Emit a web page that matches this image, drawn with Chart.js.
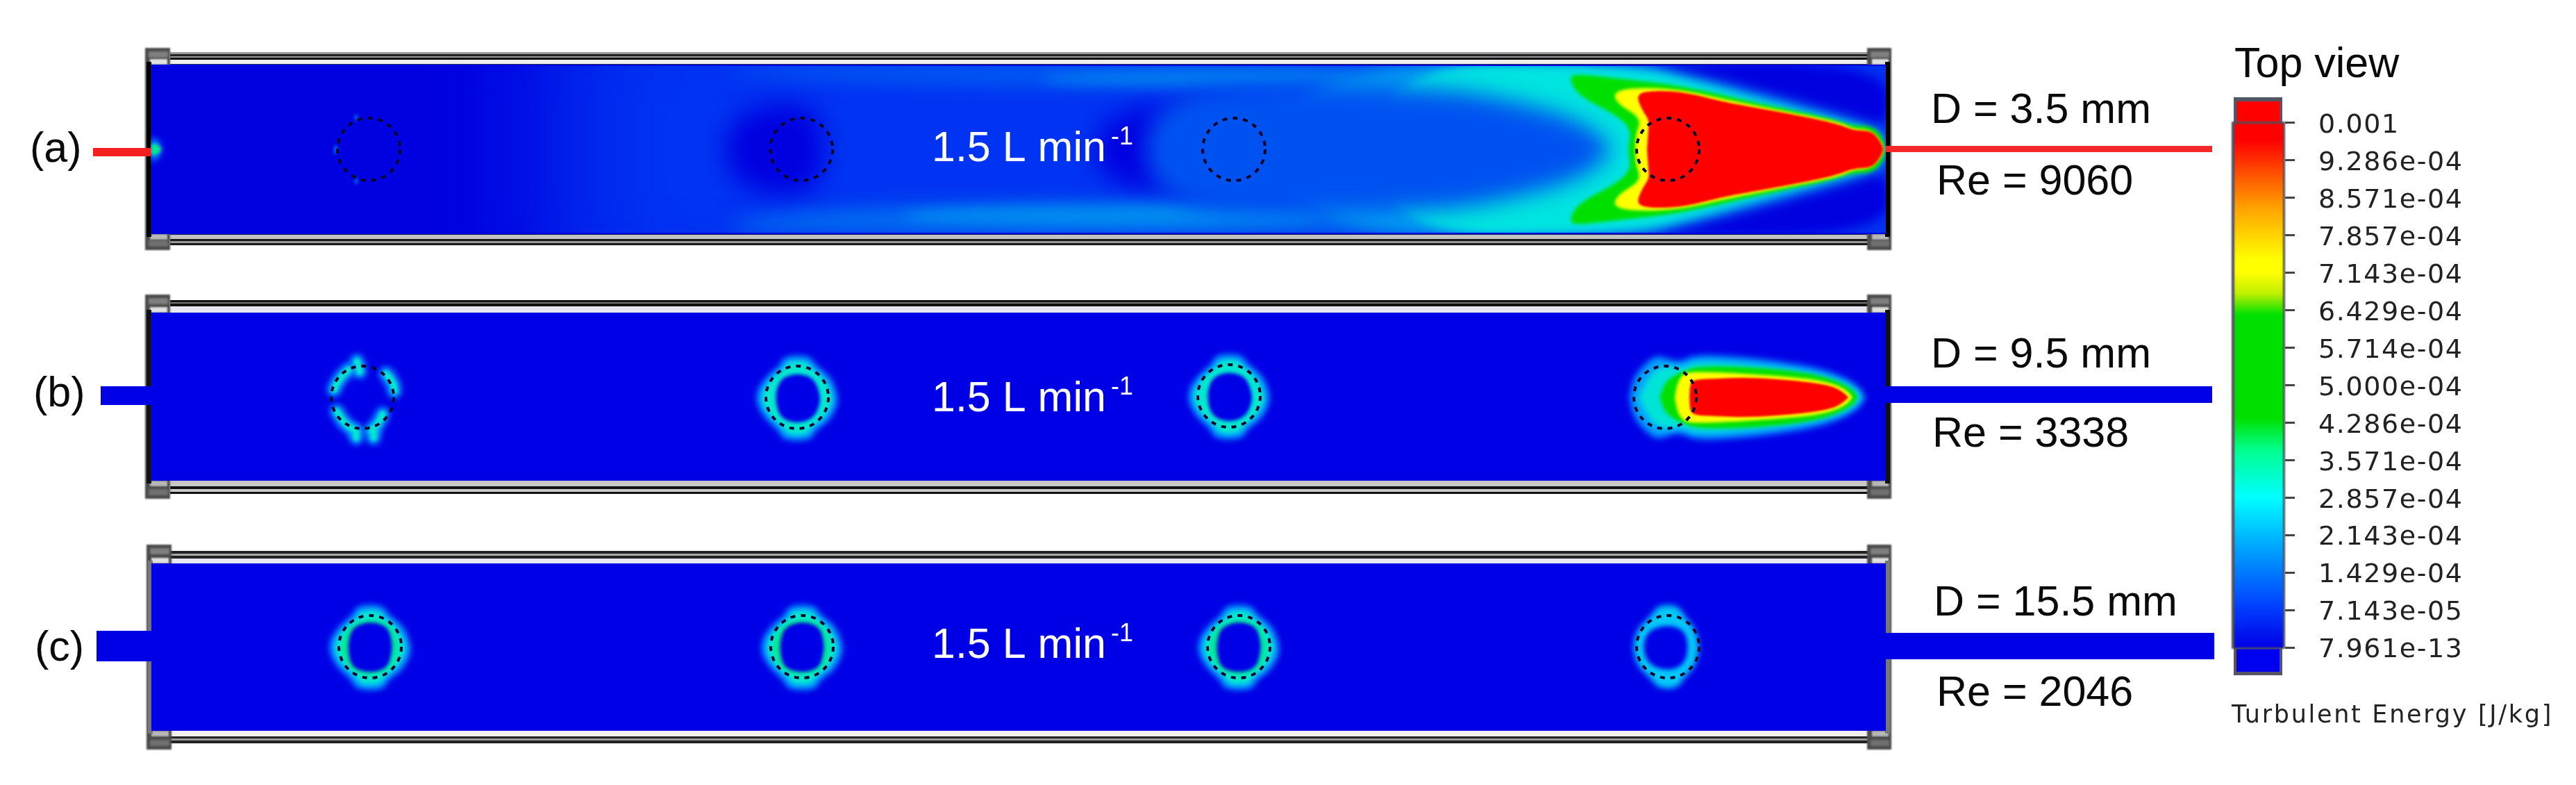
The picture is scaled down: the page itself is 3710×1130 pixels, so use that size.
<!DOCTYPE html>
<html>
<head>
<meta charset="utf-8">
<title>Turbulent energy, top view</title>
<script src="https://cdn.jsdelivr.net/npm/chart.js@4/dist/chart.umd.js"></script>
<style>
  html, body { margin: 0; padding: 0; background: #fff; }
  canvas { display: block; }
</style>
</head>
<body>
<canvas id="chart" width="3710" height="1130"></canvas>
<script>
// text and values
const panelTags = ["(a)", "(b)", "(c)"];
const diameters = ["D = 3.5 mm", "D = 9.5 mm", "D = 15.5 mm"];
const reynolds = ["Re = 9060", "Re = 3338", "Re = 2046"];
const flowRate = "1.5 L min";
const flowExponent = "-1";
const colorTitle = "Top view";
const colorUnit = "Turbulent Energy [J/kg]";
const colorTickLabels = ["0.001", "9.286e-04", "8.571e-04", "7.857e-04", "7.143e-04", "6.429e-04", "5.714e-04", "5.000e-04", "4.286e-04", "3.571e-04", "2.857e-04", "2.143e-04", "1.429e-04", "7.143e-05", "7.961e-13"];
const colorTickValues = colorTickLabels.map(Number);

// cylinder centres per panel, figure units
const cylindersA = [[531, 215], [1154, 215], [1777, 215], [2402, 215]];
const cylindersB = [[522, 572], [1148, 572], [1770, 570], [2398, 572]];
const cylindersC = [[533, 931], [1155, 931], [1784, 931], [2402, 931]];

// panel (a) jet contours, upper half, mirrored about the centre line
const redA = [[2372, 213], [2374, 187], [2375, 173], [2364, 157], [2356, 135], [2383, 130], [2429, 133], [2483, 147], [2574, 163], [2643, 177], [2670, 188], [2697, 188], [2712, 210]];
const yellowA = [[2355, 213], [2356, 193], [2364, 170], [2330, 150], [2323, 133], [2352, 126], [2417, 128], [2483, 143], [2574, 161], [2647, 175], [2670, 186], [2693, 186], [2712, 207]];
const greenA = [[2345, 213], [2349, 187], [2330, 167], [2272, 137], [2260, 113], [2268, 106], [2330, 113], [2421, 123], [2528, 148], [2636, 170], [2666, 181], [2697, 181], [2714, 200]];
const cyanA = [[1980, 93], [2345, 93], [2444, 118], [2559, 150], [2651, 175], [2700, 190], [2716, 213]];
const haloA = [[1850, 93], [2345, 93], [2444, 115], [2559, 147], [2651, 172], [2705, 188], [2716, 213]];
const coreA = [[1650, 125], [1950, 122], [2100, 130], [2176, 145], [2253, 165], [2300, 190], [2320, 213]];
const cornerA = [[2345, 90], [2720, 90], [2720, 190], [2651, 168], [2559, 140], [2444, 110]];

// panel (a) wake field
const wakeCyl1 = [[470, 215], [490, 160], [520, 145], [560, 160], [585, 215], [560, 270], [520, 285], [490, 270]];
const wakeCyl2 = [[1040, 215], [1060, 165], [1120, 148], [1175, 155], [1190, 215], [1175, 275], [1120, 282], [1060, 265]];
const wakeCyl3 = [[1570, 215], [1600, 165], [1700, 145], [1800, 145], [1835, 170], [1840, 215], [1835, 260], [1800, 280], [1700, 282], [1600, 265]];
const bandUpper = [[1050, 93], [2200, 93], [2200, 140], [1700, 125], [1300, 120], [1050, 105]];
const bandLower = [[1050, 337], [2200, 337], [2200, 290], [1700, 290], [1300, 295], [1050, 315]];
const brightLower = [[1300, 300], [1900, 295], [1900, 325], [1300, 322]];
const brightUpper = [[1500, 105], [1950, 98], [1950, 122], [1500, 122]];
const inletSpot = [[217, 195], [228, 203], [233, 215], [228, 227], [217, 235]];
const cyl1Marks = [[[481, 205], [488, 215], [481, 226]], [[509, 165], [516, 165], [514, 178]], [[509, 265], [516, 265], [514, 252]]];

// panel (b) jet contours, upper half
const redB = [[2433, 572], [2434, 550], [2445, 546], [2470, 545], [2520, 543], [2600, 549], [2640, 556], [2655, 565], [2662, 572]];
const yellowB = [[2412, 572], [2416, 550], [2425, 537], [2445, 535], [2500, 537], [2600, 544], [2640, 552], [2660, 562], [2668, 572]];
const greenB = [[2390, 572], [2398, 550], [2412, 540], [2425, 534], [2445, 527], [2520, 528], [2600, 536], [2640, 546], [2668, 560], [2675, 572]];
const cyanB = [[2360, 572], [2375, 540], [2395, 526], [2425, 530], [2440, 520], [2520, 525], [2600, 535], [2650, 548], [2672, 560], [2680, 572]];
const haloB = [[2347, 572], [2352, 545], [2368, 525], [2385, 512], [2400, 516], [2420, 522], [2440, 511], [2500, 513], [2560, 520], [2620, 530], [2660, 545], [2680, 560], [2686, 572]];
const fragmentsB1 = [[[514, 520], [518, 535]], [[502, 532], [488, 545], [481, 561]], [[556, 538], [566, 550], [568, 563]], [[485, 592], [494, 608], [510, 619]], [[551, 596], [545, 610], [535, 619]], [[513, 622], [513, 630]], [[538, 622], [538, 630]]];

// ring outlines around a cylinder, as offsets from its centre
const ringOuter = [[-18, -60], [18, -60], [26, -46], [48, -30], [58, -5], [58, 12], [45, 35], [25, 48], [20, 62], [-20, 62], [-26, 48], [-47, 30], [-59, 8], [-57, -12], [-42, -32], [-25, -45]];
const ringMiddle = [[-13, -52], [13, -52], [20, -42], [40, -26], [50, -5], [50, 10], [38, 30], [20, 43], [14, 54], [-14, 54], [-20, 43], [-40, 26], [-51, 8], [-49, -10], [-36, -28], [-20, -40]];
const ringHole = [[0, -35], [24, -28], [33, -5], [33, 10], [24, 30], [0, 38], [-24, 30], [-31, 8], [-30, -12], [-22, -28]];
const ringGreenC = [[0, -42], [30, -32], [41, -5], [39, 12], [30, 32], [0, 44], [-30, 32], [-43, 8], [-41, -10], [-30, -30]];
const ringHoleC = [[0, -37], [26, -29], [32, -5], [31, 10], [25, 31], [0, 38], [-26, 31], [-32, 8], [-31, -12], [-24, -29]];
const thinOuterC = [[-14, -60], [14, -60], [24, -44], [40, -25], [46, 0], [40, 28], [22, 46], [14, 60], [-14, 60], [-24, 46], [-44, 28], [-51, 0], [-44, -26], [-24, -44]];
const thinHoleC = [[0, -32], [24, -24], [30, 0], [24, 26], [0, 35], [-28, 26], [-37, 0], [-28, -24]];

// colour bar stops, from top (0) to bottom (1)
const barStops = [[0, "#ff0000"], [0.033, "#ff0000"], [0.16, "#ffa000"], [0.26, "#ffff00"], [0.285, "#ffff00"], [0.325, "#c0f000"], [0.365, "#00e000"], [0.562, "#00e000"], [0.624, "#00ff90"], [0.713, "#00ffff"], [0.804, "#00aaff"], [0.92, "#0040ff"], [1, "#0000e6"]];

const BLUE = "#0000e6";

// closed filled outline whose vertices go through the x/y scales
class ContourController extends Chart.ScatterController {
    draw() {
        const ctx = this.chart.ctx;
        const ds = this.getDataset();
        const pts = this.getMeta().data;
        const sx = this.chart.scales.x;
        const sy = this.chart.scales.y;

        ctx.save();
        if (ds.clipBox) {
            const [x0, y0, x1, y1] = ds.clipBox;
            ctx.beginPath();
            ctx.rect(sx.getPixelForValue(x0), sy.getPixelForValue(y0), sx.getPixelForValue(x1) - sx.getPixelForValue(x0), sy.getPixelForValue(y1) - sy.getPixelForValue(y0));
            ctx.clip();
        }
        if (ds.blur) ctx.filter = `blur(${ds.blur}px)`;

        ctx.beginPath();
        if (ds.smooth) {
            const n = pts.length;
            const mid = (a, b) => [(a.x + b.x) / 2, (a.y + b.y) / 2];
            if (ds.open) {
                ctx.moveTo(pts[0].x, pts[0].y);
                for (let i = 1; i < n - 1; i++) {
                    const m = mid(pts[i], pts[i + 1]);
                    ctx.quadraticCurveTo(pts[i].x, pts[i].y, m[0], m[1]);
                }
                ctx.lineTo(pts[n - 1].x, pts[n - 1].y);
            } else {
                const s = mid(pts[n - 1], pts[0]);
                ctx.moveTo(s[0], s[1]);
                for (let i = 0; i < n; i++) {
                    const m = mid(pts[i], pts[(i + 1) % n]);
                    ctx.quadraticCurveTo(pts[i].x, pts[i].y, m[0], m[1]);
                }
                ctx.closePath();
            }
        } else {
            pts.forEach((p, i) => i ? ctx.lineTo(p.x, p.y) : ctx.moveTo(p.x, p.y));
            if (!ds.open) ctx.closePath();
        }

        if (ds.open) {
            ctx.lineCap = "round";
            ctx.lineWidth = ds.strokeWidth;
            ctx.strokeStyle = ds.color;
            ctx.stroke();
        } else if (ds.stops) {
            const g = ctx.createLinearGradient(0, sy.getPixelForValue(ds.stopsFrom), 0, sy.getPixelForValue(ds.stopsTo));
            ds.stops.forEach(s => g.addColorStop(s[0], s[1]));
            ctx.fillStyle = g;
            ctx.fill();
        } else {
            ctx.fillStyle = ds.color;
            ctx.fill();
        }
        ctx.restore();
    }
}
ContourController.id = "contour";
ContourController.defaults = Chart.ScatterController.defaults;
ContourController.overrides = Chart.ScatterController.overrides;
Chart.register(ContourController);

const toPoints = list => list.map(p => ({ x: p[0], y: p[1] }));
const rect = (x0, y0, x1, y1) => [[x0, y0], [x1, y0], [x1, y1], [x0, y1]];
const mirrored = (upper, cy) => upper.concat(upper.slice().reverse().map(p => [p[0], 2 * cy - p[1]]));
const shifted = (offsets, c) => offsets.map(p => [c[0] + p[0], c[1] + p[1]]);

// painter's order, reversed at the end because Chart.js draws the first dataset last
const layers = [];
function add(points, color, opts) {
    layers.push(Object.assign({ type: "contour", data: toPoints(points), color, pointRadius: 0 }, opts || {}));
}

function drawFrame(top, bottom, xl, xr, flangeTop, flangeBottom, railsTop, railsBottom, wallColor) {
    railsTop.forEach(r => add(rect(245, r[0], 2690, r[1]), r[2]));
    railsBottom.forEach(r => add(rect(245, r[0], 2690, r[1]), r[2]));
    [[xl - 5, xl + 31], [xr - 27, xr + 8]].forEach(f => {
        add(rect(f[0], flangeTop, f[1], flangeBottom), "#4a4a4a", { blur: 0.8 });
        add(rect(f[0] + 5, flangeTop + 5, f[1] - 3, flangeTop + 14), "#808080", { blur: 1.5 });
        add(rect(f[0] + 7, top - 8, f[1] - 4, top), "#e0e0e0", { blur: 1 });
        add(rect(f[0] + 7, bottom, f[1] - 4, bottom + 8), "#b8b8b8", { blur: 1 });
        add(rect(f[0] + 5, flangeBottom - 14, f[1] - 3, flangeBottom - 5), "#707070", { blur: 1.5 });
    });
    add(rect(xl - 3, top - 4, xl + 4, bottom + 4), wallColor);
    add(rect(xr - 1, top - 4, xr + 6, bottom + 4), wallColor);
}

// frames
drawFrame(93, 337, 214, 2716, 69, 360,
    [[75, 95, "#999999"], [78, 81, "#222222"], [83, 86, "#111111"], [86, 92, "#eeeeee"], [92, 95, "#223355"]],
    [[335, 352, "#c4c4c4"], [335, 338, "#112255"], [344, 347, "#1a1a1a"], [347, 350, "#999999"], [350, 353, "#1a1a1a"]], "#000000");
drawFrame(450, 692, 214, 2716, 424, 718,
    [[432, 450, "#e8e8f0"], [432, 441, "#111111"], [435, 437, "#777777"]],
    [[692, 711, "#c8c8c8"], [700, 704, "#111111"], [708, 711, "#111111"]], "#111111");
drawFrame(811, 1052, 216, 2716, 784, 1079,
    [[793, 811, "#e8e8f4"], [793, 804, "#222222"], [797, 800, "#aaaaaa"]],
    [[1052, 1060, "#f0f0f0"], [1060, 1070, "#222222"], [1063, 1066, "#999999"]], "#777777");

// pipes
add(rect(134, 213, 224, 225), "#f42020");
add(rect(2712, 210, 3186, 219), "#f42828");
add(rect(145, 556, 222, 583), BLUE);
add(rect(2710, 556, 3186, 580), BLUE);
add(rect(139, 908, 228, 952), BLUE);
add(rect(2708, 911, 3189, 949), BLUE);

// panel (a) field
const boxA = [217, 95, 2716, 335];
const optA = b => ({ blur: b, smooth: true, clipBox: boxA });
add(rect(217, 93, 2716, 337), "#0000e0");
add(rect(800, -40, 3000, 470), "#0034f2", { blur: 90, clipBox: boxA });
[wakeCyl1, wakeCyl2, wakeCyl3].forEach(w => add(w, "#0000e0", optA(18)));
add(bandUpper, "#0060f2", optA(14));
add(bandLower, "#0070f0", optA(14));
add(brightLower, "#008cf0", optA(9));
add(brightUpper, "#0080f0", optA(9));
add(cornerA, "#0000e0", optA(8));
add(cornerA.map(p => [p[0], 430 - p[1]]), "#0000e0", optA(8));
add(mirrored(haloA, 215), "#00a8f0", optA(12));
add(mirrored(cyanA, 215), "#00e4e0", optA(7));
add(mirrored(coreA, 215), "#0052f0", optA(16));
add(mirrored(greenA, 215), "#00e000", optA(2.5));
add(mirrored(yellowA, 215), "#ffff00", optA(2));
add(mirrored(redA, 215), "#ff0000", optA(1.5));
add(inletSpot, "#00a0ff", optA(5));
add(inletSpot.map(p => [p[0], p[1] * 0.5 + 107.5]), "#00e890", optA(2));
cyl1Marks.forEach(m => add(m, "#0070f0", optA(2)));

// panel (b) field
const boxB = [217, 452, 2714, 690];
const optB = b => ({ blur: b, smooth: true, clipBox: boxB });
add(rect(217, 450, 2716, 692), BLUE);
fragmentsB1.forEach(f => add(f, "#00a0ff", { open: true, smooth: true, strokeWidth: 20, blur: 4, clipBox: boxB }));
fragmentsB1.forEach(f => add(f, "#00e8d0", { open: true, smooth: true, strokeWidth: 9, blur: 2, clipBox: boxB }));
[cylindersB[1], cylindersB[2]].forEach(c => {
    add(shifted(ringOuter, c), "#00a0ff", optB(4));
    add(shifted(ringMiddle, c), "#00e8d0", optB(3));
    add(shifted(ringHole, c), BLUE, optB(2.5));
});
add(mirrored(haloB, 572), "#00a0ff", optB(5));
add(mirrored(cyanB, 572), "#00e4d8", optB(4));
add(mirrored(greenB, 572), "#00e000", optB(2.5));
add(mirrored(yellowB, 572), "#ffff00", optB(2));
add(mirrored(redB, 572), "#ff0000", optB(1.5));

// panel (c) field
const boxC = [218, 813, 2714, 1050];
const optC = b => ({ blur: b, smooth: true, clipBox: boxC });
add(rect(218, 811, 2716, 1052), BLUE);
cylindersC.slice(0, 3).forEach(c => {
    add(shifted(ringOuter, c), "#00a0ff", optC(4));
    add(shifted(ringMiddle, c), "#00e8d0", optC(3));
    add(shifted(ringGreenC, c), "#00e89a", optC(2.5));
    add(shifted(ringHoleC, c), BLUE, optC(2.5));
});
add(shifted(thinOuterC, cylindersC[3]), "#00c8f8", optC(4));
add(shifted(thinHoleC, cylindersC[3]), BLUE, optC(3));

// colour bar
add(rect(3217, 140, 3287, 178), "#555566");
add(rect(3221, 146, 3283, 178), "#ff0000");
add(rect(3217, 930, 3287, 972), "#555566");
add(rect(3221, 934, 3283, 967), "#0000f0");
add(rect(3214, 175, 3291, 934), "#50505a", { blur: 1 });
add(rect(3218, 178, 3288, 932), "#000", { stops: barStops, stopsFrom: 177, stopsTo: 932.5, blur: 0.8 });

// dashed cylinder outlines
const dashedCircles = {
    type: "scatter",
    data: toPoints(cylindersA.concat(cylindersB, cylindersC)),
    pointRadius: 45,
    pointBorderWidth: 4,
    pointBorderColor: "#06062a",
    pointBackgroundColor: "rgba(0,0,0,0)",
    dashed: [7, 8]
};

const dashPlugin = {
    id: "dash",
    beforeDraw(chart) {
        chart.ctx.letterSpacing = "1.6px"; // colour bar tick labels are wide in the original
    },
    beforeDatasetDraw(chart, args) {
        const d = chart.data.datasets[args.index].dashed;
        if (d) { chart.ctx.save(); chart.ctx.setLineDash(d); }
    },
    afterDatasetDraw(chart, args) {
        if (chart.data.datasets[args.index].dashed) chart.ctx.restore();
    }
};

const textPlugin = {
    id: "figureText",
    afterDraw(chart) {
        const ctx = chart.ctx;
        const sx = chart.scales.x;
        const sy = chart.scales.y;
        const put = (s, x, y, font, color) => {
            ctx.font = font;
            ctx.fillStyle = color;
            ctx.fillText(s, sx.getPixelForValue(x), sy.getPixelForValue(y));
        };
        ctx.save();
        ctx.letterSpacing = "0px";
        ctx.textAlign = "left";
        ctx.textBaseline = "alphabetic";
        const big = "61px 'Liberation Sans'";
        const ink = "#0a0a0a";
        [[43, 233], [48, 585], [50, 951]].forEach((p, i) => put(panelTags[i], p[0], p[1], big, ink));
        [[2781, 177], [2781, 529], [2785, 886]].forEach((p, i) => put(diameters[i], p[0], p[1], big, ink));
        [[2789, 280], [2783, 643], [2789, 1016]].forEach((p, i) => put(reynolds[i], p[0], p[1], big, ink));
        [232, 592, 947].forEach(y => {
            put(flowRate, 1342, y, big, "#ffffff");
            put(flowExponent, 1600, y - 24, "36px 'Liberation Sans'", "#ffffff");
        });
        put(colorTitle, 3218, 111, big, ink);
        ctx.letterSpacing = "2.7px";
        put(colorUnit, 3214, 1040, "35px 'DejaVu Sans'", "#222222");
        ctx.restore();
    }
};

const PER_VALUE = 755.5 / 0.001;

new Chart(document.getElementById("chart"), {
    type: "scatter",
    data: { datasets: [dashedCircles].concat(layers.slice().reverse()) },
    plugins: [dashPlugin, textPlugin],
    options: {
        responsive: false,
        animation: false,
        events: [],
        layout: { padding: 0, autoPadding: false },
        plugins: { legend: { display: false }, tooltip: { enabled: false } },
        scales: {
            x: { type: "linear", min: 0, max: 3291, display: false },
            y: { type: "linear", min: 0, max: 1130, reverse: true, display: false },
            colorbar: {
                type: "linear",
                position: "right",
                min: -(1130 - 932.5) / PER_VALUE,
                max: 0.001 + 177 / PER_VALUE,
                afterBuildTicks(scale) {
                    scale.ticks = colorTickValues.map(value => ({ value }));
                },
                afterFit(scale) {
                    scale.width = 3710 - 3291;
                    scale.paddingTop = 0;
                    scale.paddingBottom = 0;
                },
                border: { display: false },
                grid: { drawOnChartArea: false, drawTicks: true, tickLength: 14, tickWidth: 3, tickColor: "#444444" },
                ticks: {
                    autoSkip: false,
                    crossAlign: "near",
                    padding: 34,
                    labelOffset: 4,
                    color: "#222222",
                    font: { family: "'DejaVu Sans'", size: 38 },
                    callback: (v, i) => colorTickLabels[i]
                }
            }
        }
    }
});
</script>
</body>
</html>
